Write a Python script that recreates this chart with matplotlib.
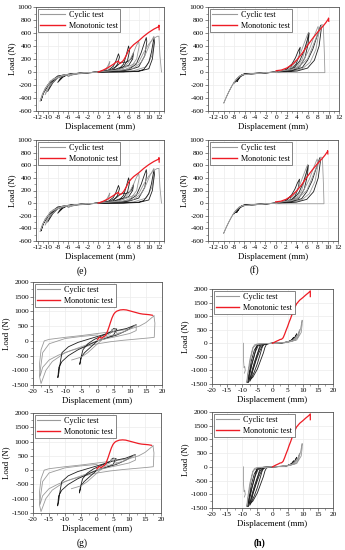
import matplotlib
matplotlib.use("Agg")
import matplotlib.pyplot as plt
from matplotlib.lines import Line2D
from matplotlib.ticker import MultipleLocator

plt.rcParams['font.family'] = ['Liberation Serif', 'DejaVu Serif']
plt.rcParams['axes.unicode_minus'] = False

DARK = '#1e1e1e'
GREY = '#9a9a9a'
RED = '#ee1c25'

# ---------------- panel (e) data: displacement (mm), load (N) ----------------
e_loops = [
    (GREY, [0, 1, 2, 2.3, 2.0, 1.5, 0, -2, -4, -5, -6, -5.5, -4, -2, 0],
           [0, 10, 60, 160, 110, 40, 0, -10, -25, -40, -70, -50, -30, -15, 0]),
    (DARK, [0, 1, 2, 3, 3.5, 4, 4.2, 3.8, 3, 2, 0, -2, -4, -6, -7, -8, -7.5, -6.5, -5, -3, 0],
           [0, 10, 30, 90, 170, 280, 230, 120, 40, 10, 0, -10, -20, -40, -80, -160, -100, -50, -30, -15, 0]),
    (DARK, [0, 2, 3.5, 4.5, 5.5, 6, 6.5, 7, 6.8, 6, 5, 4, 3, 2, 0],
           [0, 20, 80, 150, 150, 170, 200, 300, 200, 100, 80, 60, 30, 10, 0]),
    (DARK, [0, 2, 4, 5, 5.5, 6, 6.2, 5.8, 5, 4, 2, 0, -2, -4, -6, -8, -9, -10, -9.5, -8.5, -7, -5, -2, 0],
           [0, 10, 40, 120, 250, 400, 330, 180, 80, 40, 10, 0, -10, -20, -40, -90, -170, -300, -200, -100, -50, -30, -15, 0]),
    (GREY, [0, 3, 5, 6, 7, 7.5, 8, 8.1, 7.6, 6.5, 5, 3, 0, -3, -6, -8, -9.5, -10.5, -10, -9, -7, -4, 0],
           [0, 20, 60, 150, 300, 400, 470, 400, 200, 80, 30, 10, 0, -15, -40, -90, -200, -350, -230, -120, -50, -25, 0]),
    (DARK, [0, 3, 6, 7.5, 8.5, 9, 9.5, 9.6, 9.2, 8, 6, 3, 0, -3, -6, -8, -10, -11, -11.3, -10.8, -9.5, -8, -5, -2, 0],
           [0, 10, 40, 120, 300, 420, 530, 470, 250, 80, 30, 10, 0, -15, -35, -80, -200, -350, -440, -320, -150, -60, -25, -10, 0]),
    (GREY, [0, 4, 7, 8.5, 9.5, 10.3, 11, 11.1, 10.6, 9.5, 7, 4, 0, -4, -7, -9, -10.5, -11.5, -11, -9.5, -7, -3, 0],
           [0, 20, 60, 150, 300, 450, 550, 480, 250, 80, 20, 5, 0, -20, -50, -110, -250, -450, -330, -140, -50, -15, 0]),
    (DARK, [0, 5, 8, 9, 10, 10.5, 11, 11.1, 10.7, 10, 8, 5, 0],
           [0, 5, 15, 40, 150, 300, 520, 450, 200, 50, 10, 0, 0]),
    (GREY, [0, 4, 8, 9, 10, 11, 11.7, 12, 12.2, 12.5],
           [0, 30, 150, 300, 430, 520, 550, 550, 250, 0]),
]
e_mono_x = [0, 0.5, 1, 2, 3, 3.5, 4, 4.2, 4.5, 5, 5.5, 6, 6.5, 7, 7.5, 8, 9, 10, 11, 12, 12, 12.05]
e_mono_y = [0, 15, 30, 70, 120, 150, 170, 130, 140, 180, 250, 330, 380, 420, 450, 480, 550, 610, 660, 700, 720, 650]

# ---------------- panel (f) data ----------------
f_loops = [
    (DARK, [0, 1, 2, 2.5, 3, 2.8, 2, 1, 0, -2, -4, -6, -6.5, -6, -4, -2, 0],
           [0, 10, 40, 80, 120, 60, 20, 5, 0, -15, -25, -30, -40, -30, -20, -10, 0]),
    (DARK, [0, 1, 2, 3, 3.7, 4.2, 4.6, 4.4, 3.8, 3, 2, 0, -2, -4, -6, -6.8, -7.5, -7, -6.5, -5, -3, 0],
           [0, 10, 40, 120, 220, 320, 380, 250, 120, 50, 15, 0, -15, -25, -35, -60, -150, -90, -45, -30, -15, 0]),
    (GREY, [0, 2, 3, 4, 4.7, 5.3, 6, 6.2, 5.9, 5, 4, 3, 2, 0],
           [0, 20, 80, 180, 300, 430, 580, 610, 450, 200, 80, 30, 10, 0]),
    (DARK, [0, 2, 3.5, 4.5, 5.3, 5.9, 6.3, 6.1, 5.5, 4.5, 3, 0, -3, -6, -7, -8, -7.5, -6.5, -4, 0],
           [0, 15, 70, 170, 320, 480, 600, 430, 220, 80, 20, 0, -20, -35, -80, -170, -110, -40, -20, 0]),
    (GREY, [0, 3, 4.5, 5.5, 6.5, 7.3, 8, 8.2, 7.6, 6.5, 5, 3, 0],
           [0, 30, 100, 220, 380, 560, 700, 620, 350, 150, 50, 10, 0]),
    (DARK, [0, 3, 5, 6, 7, 7.8, 8.5, 8.6, 8.2, 7.3, 6, 4, 2, 0],
           [0, 20, 70, 180, 350, 550, 720, 650, 400, 180, 60, 15, 5, 0]),
    (GREY, [0, 4, 6, 7, 8, 8.7, 9, 9.2, 9.3, 9.3, 6, 3, 0],
           [0, 60, 200, 400, 600, 730, 720, 300, 0, -10, -10, -10, -10]),
    (GREY, [0, -3, -6, -7, -8, -9, -10, -9.5, -8.5, -7.5, -6.5, -4, 0],
           [0, -20, -40, -60, -150, -300, -480, -380, -220, -100, -40, -20, 0]),
]
f_mono_x = [0, 0.5, 1, 2, 3, 4, 5, 6, 7, 8, 9, 9.5, 10, 10, 10.05]
f_mono_y = [20, 25, 30, 60, 110, 190, 290, 410, 520, 620, 710, 760, 820, 830, 780]

# ---------------- panel (g) data ----------------
g_loops = [
    (GREY, [17.5, 17.8, 17.6, 16, 12, 8, 4, 0, -4, -8, -12, -15, -17, -17.8, -18, -17.5, -16.5, -15, -10, -5, 0, 5, 10, 13, 15, 17.5],
           [850, 600, 120, 100, 60, 20, -30, -100, -200, -320, -480, -650, -900, -1200, -800, -300, 0, 50, 120, 180, 250, 320, 400, 500, 620, 850]),
    (GREY, [0, -5, -10, -14, -16, -17, -17.5, -18, -17, -15, -10, -5, 0],
           [0, -200, -400, -700, -1000, -1300, -1450, -1200, -400, -100, 80, 150, 200]),
    (DARK, [0, -3, -6, -9, -11, -12, -12.3, -12, -11.5, -11, -9, -6, -3, 0, 3, 6, 9, 12, 9, 6, 3, 0],
           [0, -150, -300, -500, -700, -900, -1250, -1100, -700, -400, -200, -50, 50, 150, 250, 350, 420, 550, 350, 200, 100, 0]),
    (DARK, [0, -2, -4, -5, -5.5, -5.2, -4.5, -3, -1, 0, 2, 4, 5, 6, 5, 3, 0],
           [0, -200, -400, -550, -800, -600, -300, -100, 50, 100, 200, 300, 420, 400, 200, 100, 0]),
    (GREY, [0, 2, 4, 4.5, 5, 5.5, 6, 8, 10, 12, 12, 10, 6, 3, 0],
           [0, 150, 250, 400, 300, 420, 250, 300, 400, 550, 350, 250, 150, 80, 0]),
    (GREY, [-8, -5, -3, -1, 0, 1, 2, 3, 5, 7],
           [-650, -550, -400, -200, -100, 0, 100, 150, 200, 250]),
]
g_mono_x = [0, 0.3, 0.6, 1, 1.4, 1.8, 2.2, 2.6, 3, 3.5, 4, 4.5, 5, 5.5, 6, 7, 8, 9, 10, 11, 12, 13, 14, 15, 16, 17]
g_mono_y = [50, 80, 130, 110, 90, 140, 160, 200, 300, 450, 620, 780, 900, 970, 1010, 1050, 1060, 1050, 1020, 990, 960, 930, 910, 900, 890, 870]

# ---------------- panel (h) data ----------------
h_loops = [
    (DARK, [0, -1, -2, -2.5, -3, -4, -5, -6.5, -7, -6.5, -5.5, -4.5, -3.5, -2.5, -1, 0],
           [0, -10, -40, -150, -350, -650, -950, -1250, -1300, -1000, -650, -350, -120, -30, -5, 0]),
    (DARK, [0, -2, -3, -3.5, -4, -5, -6, -7, -7.5, -7, -6, -5, -4, -3, -1, 0],
           [0, -15, -50, -180, -380, -750, -1050, -1300, -1400, -1100, -700, -380, -130, -30, -5, 0]),
    (DARK, [0, -3, -4, -4.5, -5, -6, -7, -8, -7.5, -6.8, -5.8, -4.8, -3.5, -1, 0],
           [0, -20, -60, -200, -420, -800, -1150, -1450, -1150, -750, -350, -100, -25, -5, 0]),
    (DARK, [0, -4, -5, -5.5, -6, -7, -7.7, -8.3, -7.9, -7, -6, -5, -3, 0],
           [0, -25, -70, -220, -450, -850, -1150, -1450, -1200, -650, -250, -60, -15, 0]),
    (GREY, [0, -5, -6, -6.5, -7, -7.5, -8, -8.5, -8.3, -7.5, -6.5, -5, -2, 0],
           [0, -20, -60, -200, -450, -750, -1100, -1450, -1200, -600, -150, -40, -10, 0]),
    (GREY, [-9.6, -9.6, -9.4, -9.2, -9.0, -9.3],
           [0, -600, -900, -850, -1000, -1100]),
    (DARK, [0, 2, 4, 5, 6, 6.5, 7, 6.5, 5, 3, 0],
           [0, 10, 30, 50, 100, 150, 220, 120, 50, 15, 0]),
    (DARK, [0, 3, 5, 6, 7, 7.5, 8, 7.5, 6, 4, 0],
           [0, 15, 40, 80, 150, 250, 350, 200, 80, 20, 0]),
    (GREY, [0, 3, 5, 6.5, 7.5, 8.5, 9, 8.5, 7, 4, 0],
           [0, 20, 50, 100, 200, 350, 500, 300, 100, 30, 0]),
    (GREY, [0, 4, 6, 7.5, 8.5, 9.2, 9.8, 9.8, 9.5, 8, 5, 0],
           [0, 30, 60, 120, 250, 500, 850, 700, 400, 120, 40, 0]),
]
h_mono_x = [0, 1, 2, 2.5, 3, 3.5, 4, 4.5, 5, 5.5, 6, 6.5, 7, 7.5, 8, 9, 10, 11, 12, 12.5, 12.5]
h_mono_y = [0, 60, 110, 140, 150, 200, 330, 480, 620, 780, 920, 1080, 1220, 1350, 1460, 1590, 1680, 1780, 1870, 1930, 1720]

W, H = 345, 550
fig = plt.figure(figsize=(W / 100, H / 100), dpi=100)


def rect(l, t, r, b):
    return [l / W, 1 - b / H, (r - l) / W, (b - t) / H]


def panel(box, loops, mx, my, xlim, ylim, xmaj, xmin, ymaj, ymin, leg_w):
    ax = fig.add_axes(rect(*box))
    ax.grid(True, color='#ececec', lw=0.5)
    ax.set_axisbelow(True)
    for col, xs, ys in loops:
        ax.plot(xs, ys, color=col, lw=0.6)
    ax.plot(mx, my, color=RED, lw=0.9)
    ax.set_xlim(*xlim)
    ax.set_ylim(*ylim)
    ax.xaxis.set_major_locator(MultipleLocator(xmaj))
    ax.xaxis.set_minor_locator(MultipleLocator(xmin))
    ax.yaxis.set_major_locator(MultipleLocator(ymaj))
    ax.yaxis.set_minor_locator(MultipleLocator(ymin))
    ax.tick_params(which='major', direction='out', length=2, width=0.5,
                   labelsize=5.3, pad=1, color='#555555')
    ax.tick_params(which='minor', direction='out', length=1.2, width=0.4, color='#555555')
    for s in ax.spines.values():
        s.set_linewidth(0.6)
        s.set_color('#555555')
    ax.set_xlabel('Displacement (mm)', fontsize=6.3, labelpad=2)
    ax.set_ylabel('Load (N)', fontsize=6.3, labelpad=1)
    handles = [Line2D([], [], color=GREY, lw=0.8), Line2D([], [], color=RED, lw=1.0)]
    leg = ax.legend(handles, ['Cyclic test', 'Monotonic test'], loc='upper left',
                    fontsize=5.9, frameon=True, fancybox=False, framealpha=1,
                    handlelength=leg_w, handletextpad=0.5, borderpad=0.3,
                    labelspacing=0.3, borderaxespad=0.2)
    leg.get_frame().set_edgecolor('#555555')
    leg.get_frame().set_linewidth(0.5)
    return ax


ekw = dict(xlim=(-12.3, 13), ylim=(-600, 1000), xmaj=2, xmin=1, ymaj=200, ymin=100, leg_w=3.0)
fkw = dict(xlim=(-13, 12), ylim=(-600, 1000), xmaj=2, xmin=1, ymaj=200, ymin=100, leg_w=3.0)
gkw = dict(xlim=(-20, 20), ylim=(-1500, 2000), xmaj=5, xmin=2.5, ymaj=500, ymin=250, leg_w=2.8)

panel((36, 7, 164, 111), e_loops, e_mono_x, e_mono_y, **ekw)
panel((208, 7, 339, 111), f_loops, f_mono_x, f_mono_y, **fkw)
panel((36, 140, 164, 241), e_loops, e_mono_x, e_mono_y, **ekw)
panel((208, 140, 338, 241), f_loops, f_mono_x, f_mono_y, **fkw)
panel((33, 282, 162, 385), g_loops, g_mono_x, g_mono_y, **gkw)
panel((212, 289, 333, 384), h_loops, h_mono_x, h_mono_y, **gkw)
panel((33, 413, 161, 513), g_loops, g_mono_x, g_mono_y, **gkw)
panel((212, 412, 333, 508), h_loops, h_mono_x, h_mono_y, **gkw)

for lab, x, y, w in [('(e)', 82, 271, 'normal'), ('(f)', 254, 270, 'normal'),
                     ('(g)', 82, 543, 'normal'), ('(h)', 259, 543, 'bold')]:
    fig.text(x / W, 1 - y / H, lab, ha='center', va='center', fontsize=7, fontweight=w)

fig.savefig('out.png', dpi=100)
